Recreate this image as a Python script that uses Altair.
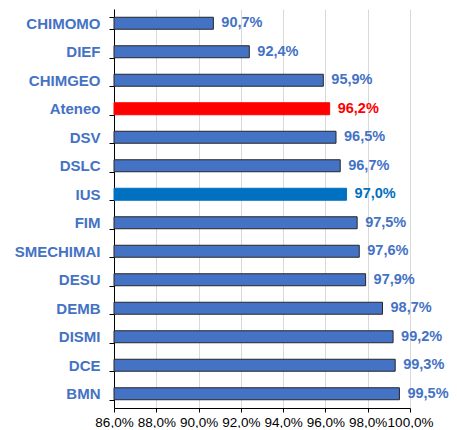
import altair as alt
import pandas as pd

categories = ["CHIMOMO", "DIEF", "CHIMGEO", "Ateneo", "DSV", "DSLC", "IUS", "FIM",
              "SMECHIMAI", "DESU", "DEMB", "DISMI", "DCE", "BMN"]
values = [90.7, 92.4, 95.9, 96.2, 96.5, 96.7, 97.0, 97.5, 97.6, 97.9, 98.7, 99.2, 99.3, 99.5]
highlight = {"Ateneo": "ateneo", "IUS": "ius"}

df = pd.DataFrame({"cat": categories, "val": values})
df["group"] = [highlight.get(c, "dept") for c in categories]
df["label"] = [f"{v:.1f}".replace(".", ",") + "%" for v in values]

groups = ["dept", "ateneo", "ius"]
fills = ["#4472C4", "#FF0000", "#0070C0"]
strokes = ["#262626", "#FF0000", "#0070C0"]
textcols = ["#4472C4", "#FF0000", "#0070C0"]

y = alt.Y("cat:N", sort=categories, title=None,
          scale=alt.Scale(paddingInner=0.58, paddingOuter=0.29),
          axis=alt.Axis(tickBand="extent", tickSize=5, tickColor="#000000",
                        domainColor="#000000", labelPadding=9,
                        labelFont="Liberation Sans", labelFontSize=15,
                        labelFontWeight="bold", labelColor="#4472C4"))
x = alt.X("val:Q", title=None,
          scale=alt.Scale(domain=[86, 100], zero=False, nice=False, clamp=True),
          axis=alt.Axis(values=[86, 88, 90, 92, 94, 96, 98, 100],
                        labelExpr="replace(format(datum.value, '.1f'), '.', ',') + '%'",
                        tickSize=4, tickColor="#000000", domainColor="#000000",
                        gridColor="#d9d9d9", labelFont="Liberation Sans",
                        labelFontSize=13.5, labelColor="#000000", labelPadding=3,
                        labelFlush=False, labelOverlap=False))

bars = alt.Chart(df).mark_bar(strokeWidth=1).encode(
    y=y, x=x, x2=alt.datum(86),
    fill=alt.Fill("group:N", scale=alt.Scale(domain=groups, range=fills), legend=None),
    stroke=alt.Stroke("group:N", scale=alt.Scale(domain=groups, range=strokes), legend=None),
)
text = alt.Chart(df).mark_text(align="left", baseline="middle", dx=8,
                               font="Liberation Sans", fontSize=14.5, fontWeight="bold").encode(
    y=alt.Y("cat:N", sort=categories),
    x="val:Q",
    text="label:N",
    color=alt.Color("group:N", scale=alt.Scale(domain=groups, range=textcols), legend=None),
)

chart = alt.layer(bars, text).properties(
    width=296, height=399,
    autosize=alt.AutoSizeParams(type="none"),
    padding={"left": 106, "top": 1, "right": 39, "bottom": 20},
).configure_view(stroke=None).configure_axis(gridWidth=1)

chart.save("out.html", embed_options={"renderer": "svg", "actions": False})
